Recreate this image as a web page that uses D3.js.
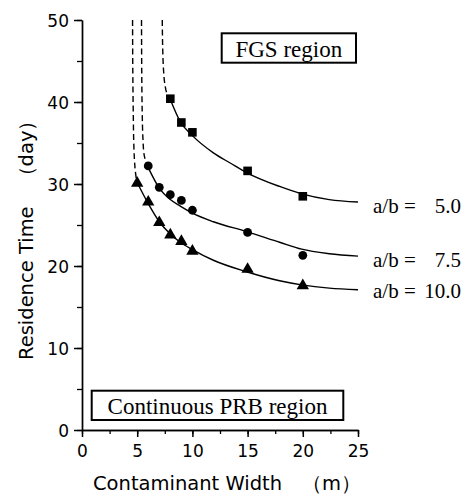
<!DOCTYPE html>
<html><head><meta charset="utf-8">
<script src="https://cdn.jsdelivr.net/npm/d3@7"></script>
<style>html,body{margin:0;padding:0;background:#fff;}svg{display:block;}</style>
</head><body>
<script>
// ---- data ----
const xTicks = [0, 5, 10, 15, 20, 25];
const yTicks = [0, 10, 20, 30, 40, 50];
const seriesNames = ["a/b =", "a/b =", "a/b ="];
const seriesValues = ["5.0", "7.5", "10.0"];

// measured points
const sqX = [8, 9, 10, 15, 20];
const sqY = [40.4, 37.5, 36.3, 31.6, 28.5];
const ciX = [6, 7, 8, 9, 10, 15, 20];
const ciY = [32.2, 29.6, 28.7, 28.0, 26.8, 24.1, 21.3];
const trX = [5, 6, 7, 8, 9, 10, 15, 20];
const trY = [30.1, 27.8, 25.3, 23.8, 23.0, 21.8, 19.6, 17.6];

// fitted solid curves
const sqFitX = [8.0, 8.9, 10, 11.9, 13.5, 14.9, 17.9, 19.9, 22.4, 25];
const sqFitY = [40.3, 37.6, 35.9, 33.8, 32.5, 31.4, 29.7, 28.8, 28.1, 27.8];
const ciFitX = [6.0, 7.0, 8.0, 8.9, 10, 11.9, 14.9, 17.9, 19.9, 22.4, 25];
const ciFitY = [32.0, 29.5, 28.1, 27.3, 26.45, 25.4, 24.2, 22.9, 22.05, 21.5, 21.2];
const trFitX = [4.95, 6, 7, 8, 8.9, 10, 11.9, 14.9, 17.9, 19.9, 22.4, 25];
const trFitY = [30.3, 27.6, 25.4, 23.9, 22.9, 22.0, 20.7, 19.3, 18.2, 17.7, 17.3, 17.1];

// dashed extensions toward the asymptote
const sqDashX = [7.27, 7.31, 7.38, 7.5, 7.7, 8.0];
const sqDashY = [50, 46.5, 44, 42.2, 41.0, 40.3];
const ciDashX = [5.39, 5.41, 5.45, 5.52, 5.65, 6.0];
const ciDashY = [50, 44, 39, 35.5, 33.4, 32.0];
const trDashX = [4.58, 4.6, 4.64, 4.7, 4.8, 4.95];
const trDashY = [50, 44, 39, 34.5, 32.0, 30.3];

const regionLabels = ["FGS region", "Continuous PRB region"];

// ---- drawing ----
const W = 462, H = 496;
const svg = d3.select("body").append("svg").attr("width", W).attr("height", H);
const x = d3.scaleLinear().domain([0, 25]).range([82, 358]);
const y = d3.scaleLinear().domain([0, 50]).range([430, 20]);
const zip = (a, b) => a.map((v, i) => [v, b[i]]);

const tickFont = "DejaVu Sans, sans-serif";

// minor ticks
const xMinor = d3.range(0, 25.01, 2.5);
const yMinor = d3.range(0, 50.01, 5);
svg.append("g").attr("transform", `translate(0,${y(0)})`)
  .call(d3.axisBottom(x).tickValues(xMinor).tickSize(4).tickSizeOuter(0).tickFormat(""))
  .call(g => g.selectAll("line,path").attr("stroke", "#000").attr("stroke-width", 1.3));
svg.append("g").attr("transform", `translate(${x(0)},0)`)
  .call(d3.axisLeft(y).tickValues(yMinor).tickSize(5).tickSizeOuter(0).tickFormat(""))
  .call(g => g.selectAll("line,path").attr("stroke", "#000").attr("stroke-width", 1.3));

// major ticks
const gx = svg.append("g").attr("transform", `translate(0,${y(0)})`)
  .call(d3.axisBottom(x).tickValues(xTicks).tickSize(7).tickSizeOuter(0).tickPadding(8));
gx.selectAll("line,path").attr("stroke", "#000").attr("stroke-width", 1.5);
gx.selectAll("text").attr("font-family", tickFont).attr("font-size", 17).attr("fill", "#000");
const gy = svg.append("g").attr("transform", `translate(${x(0)},0)`)
  .call(d3.axisLeft(y).tickValues(yTicks).tickSize(8).tickSizeOuter(0).tickPadding(5));
gy.selectAll("line,path").attr("stroke", "#000").attr("stroke-width", 1.5);
gy.selectAll("text").attr("font-family", tickFont).attr("font-size", 17).attr("fill", "#000").attr("dy", "0.36em");

// axis titles
svg.append("text").attr("x", 93).attr("y", 490)
  .attr("font-family", tickFont).attr("font-size", 19.5).attr("fill", "#000")
  .text("Contaminant Width\u3000（m）");
svg.append("text").attr("transform", "translate(33,360) rotate(-90)")
  .attr("font-family", tickFont).attr("font-size", 19.5).attr("fill", "#000")
  .text("Residence Time\u3000（day）");

// curves
const solidLine = d3.line().x(d => x(d[0])).y(d => y(d[1])).curve(d3.curveMonotoneX);
const dashLine = d3.line().x(d => x(d[0])).y(d => y(d[1])).curve(d3.curveCatmullRom.alpha(0.5));
const solids = [zip(sqFitX, sqFitY), zip(ciFitX, ciFitY), zip(trFitX, trFitY)];
const dashes = [zip(sqDashX, sqDashY), zip(ciDashX, ciDashY), zip(trDashX, trDashY)];
svg.selectAll("path.fit").data(solids).enter().append("path").attr("class", "fit")
  .attr("d", solidLine).attr("fill", "none").attr("stroke", "#000").attr("stroke-width", 1.4);
svg.selectAll("path.dash").data(dashes).enter().append("path").attr("class", "dash")
  .attr("d", dashLine).attr("fill", "none").attr("stroke", "#000").attr("stroke-width", 1.4)
  .attr("stroke-dasharray", "6,3.5");

// markers
svg.selectAll("rect.sq").data(zip(sqX, sqY)).enter().append("rect").attr("class", "sq")
  .attr("x", d => x(d[0]) - 4.3).attr("y", d => y(d[1]) - 4.3).attr("width", 8.6).attr("height", 8.6).attr("fill", "#000");
svg.selectAll("circle.ci").data(zip(ciX, ciY)).enter().append("circle").attr("class", "ci")
  .attr("cx", d => x(d[0])).attr("cy", d => y(d[1])).attr("r", 4.4).attr("fill", "#000");
const tri = d3.symbol().type(d3.symbolTriangle).size(66);
svg.selectAll("path.tr").data(zip(trX, trY)).enter().append("path").attr("class", "tr")
  .attr("transform", d => `translate(${x(d[0])},${y(d[1])})`).attr("d", tri).attr("fill", "#000");

// series labels
const serif = "Liberation Serif, Times New Roman, serif";
const labelY = [213, 267, 298];
seriesNames.forEach((n, i) => {
  svg.append("text").attr("x", 373).attr("y", labelY[i]).attr("font-family", serif)
    .attr("font-size", 21).attr("fill", "#000").text(n);
  svg.append("text").attr("x", 461).attr("y", labelY[i]).attr("text-anchor", "end").attr("font-family", serif)
    .attr("font-size", 21).attr("fill", "#000").text(seriesValues[i]);
});

// region boxes
const boxes = [
  {x0: 221.7, y0: 33.3, w: 134.3, h: 29.4, tx: 288.8, ty: 57, t: regionLabels[0]},
  {x0: 91.7, y0: 390.7, w: 251.6, h: 29.3, tx: 217.5, ty: 414, t: regionLabels[1]}
];
boxes.forEach(b => {
  svg.append("rect").attr("x", b.x0).attr("y", b.y0).attr("width", b.w).attr("height", b.h)
    .attr("fill", "#fff").attr("stroke", "#000").attr("stroke-width", 2);
  svg.append("text").attr("x", b.tx).attr("y", b.ty).attr("text-anchor", "middle")
    .attr("font-family", serif).attr("font-size", 23).attr("fill", "#000").text(b.t);
});
</script>
</body></html>
